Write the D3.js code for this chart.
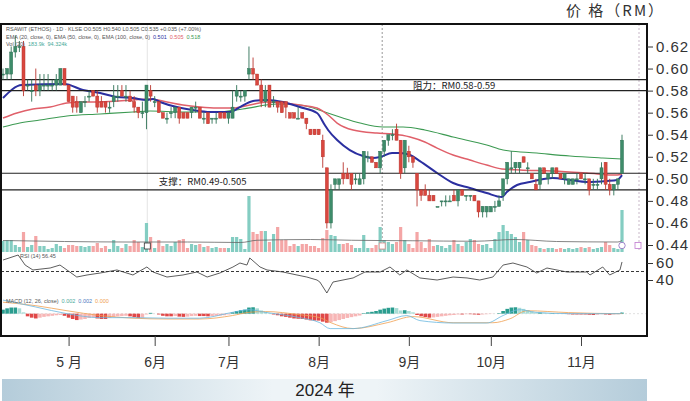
<!DOCTYPE html>
<html><head><meta charset="utf-8">
<script src="https://cdn.jsdelivr.net/npm/d3@7"></script>
<style>
body{margin:0;background:#fff;}
svg{display:block;font-family:"Liberation Sans","Noto Sans CJK SC",Arial,sans-serif;}
</style>
</head><body>
<svg id="c" width="690" height="401"></svg>
<script>
// ---------- DATA ----------
const monthLabels = ["5 月","6月","7月","8月","9月","10月","11月"];
const monthStartIdx = [16,37,55,77,99,119,141];
const priceTicks = [0.44,0.46,0.48,0.50,0.52,0.54,0.56,0.58,0.60,0.62];
const rsiTicks = [40,60];
const yearLabel = "2024 年";
const titleLabel = "价 格（RM）";

// daily candles [open, high, low, close]
const ohlc = [
[0.595,0.600,0.590,0.595],[0.595,0.600,0.590,0.600],[0.595,0.620,0.590,0.615],[0.615,0.630,0.610,0.620],[0.620,0.625,0.615,0.620],
[0.620,0.625,0.575,0.580],[0.585,0.590,0.580,0.585],[0.580,0.590,0.570,0.580],[0.585,0.600,0.575,0.580],[0.580,0.595,0.575,0.585],
[0.585,0.595,0.580,0.585],[0.585,0.595,0.580,0.585],[0.585,0.590,0.580,0.585],[0.585,0.595,0.580,0.590],[0.585,0.600,0.585,0.600],
[0.600,0.600,0.585,0.585],[0.585,0.585,0.570,0.570],[0.575,0.575,0.560,0.565],[0.570,0.575,0.560,0.565],[0.560,0.570,0.560,0.570],
[0.570,0.575,0.565,0.570],[0.575,0.580,0.570,0.575],[0.580,0.580,0.575,0.575],[0.575,0.580,0.560,0.565],[0.570,0.575,0.565,0.565],
[0.570,0.570,0.560,0.565],[0.565,0.570,0.560,0.565],[0.570,0.585,0.565,0.575],[0.575,0.585,0.570,0.575],[0.580,0.585,0.575,0.575],
[0.575,0.585,0.570,0.575],[0.575,0.580,0.570,0.570],[0.570,0.575,0.560,0.565],[0.565,0.565,0.555,0.560],[0.560,0.570,0.555,0.560],
[0.560,0.585,0.545,0.585],[0.580,0.585,0.570,0.575],[0.570,0.575,0.565,0.570],[0.570,0.570,0.560,0.560],[0.560,0.560,0.555,0.555],
[0.555,0.560,0.550,0.555],[0.560,0.565,0.555,0.560],[0.560,0.565,0.555,0.565],[0.565,0.565,0.550,0.555],[0.560,0.560,0.555,0.555],
[0.560,0.560,0.555,0.555],[0.560,0.565,0.555,0.565],[0.565,0.570,0.560,0.565],[0.565,0.565,0.555,0.555],[0.555,0.560,0.550,0.555],
[0.560,0.560,0.550,0.550],[0.555,0.555,0.550,0.555],[0.555,0.560,0.550,0.555],[0.560,0.560,0.555,0.555],[0.560,0.560,0.555,0.555],
[0.555,0.560,0.550,0.560],[0.555,0.580,0.555,0.565],[0.575,0.585,0.570,0.580],[0.575,0.580,0.570,0.575],[0.575,0.580,0.570,0.580],
[0.595,0.620,0.590,0.600],[0.600,0.610,0.590,0.595],[0.595,0.595,0.585,0.585],[0.585,0.590,0.565,0.570],[0.570,0.585,0.565,0.580],
[0.585,0.585,0.565,0.565],[0.570,0.575,0.565,0.570],[0.570,0.570,0.560,0.565],[0.570,0.570,0.560,0.560],[0.570,0.570,0.555,0.565],
[0.560,0.560,0.555,0.555],[0.560,0.560,0.555,0.555],[0.555,0.565,0.555,0.555],[0.560,0.560,0.555,0.555],[0.555,0.555,0.545,0.550],
[0.545,0.545,0.540,0.540],[0.545,0.545,0.540,0.540],[0.545,0.545,0.540,0.540],[0.535,0.540,0.510,0.520],[0.510,0.510,0.455,0.460],
[0.460,0.495,0.455,0.490],[0.495,0.500,0.490,0.500],[0.495,0.500,0.490,0.500],[0.505,0.515,0.495,0.500],[0.505,0.510,0.500,0.500],
[0.505,0.505,0.490,0.495],[0.500,0.505,0.495,0.500],[0.495,0.505,0.495,0.500],[0.500,0.525,0.495,0.525],[0.520,0.525,0.515,0.520],
[0.520,0.520,0.515,0.515],[0.515,0.515,0.510,0.510],[0.510,0.525,0.505,0.525],[0.525,0.535,0.520,0.535],[0.535,0.540,0.530,0.540],
[0.540,0.545,0.535,0.540],[0.545,0.550,0.535,0.535],[0.535,0.535,0.500,0.505],[0.510,0.535,0.505,0.535],[0.525,0.530,0.515,0.520],
[0.520,0.520,0.510,0.515],[0.505,0.505,0.475,0.490],[0.490,0.490,0.480,0.485],[0.490,0.495,0.485,0.485],[0.485,0.490,0.480,0.480],
[0.485,0.485,0.480,0.480],[0.475,0.475,0.475,0.475],[0.480,0.480,0.475,0.480],[0.480,0.485,0.475,0.480],[0.480,0.485,0.480,0.480],
[0.485,0.490,0.480,0.480],[0.480,0.490,0.475,0.490],[0.490,0.490,0.485,0.485],[0.485,0.485,0.480,0.485],[0.485,0.485,0.480,0.485],
[0.485,0.485,0.480,0.480],[0.480,0.480,0.465,0.470],[0.470,0.475,0.465,0.475],[0.470,0.475,0.465,0.475],[0.470,0.475,0.470,0.475],
[0.475,0.480,0.470,0.475],[0.475,0.485,0.475,0.480],[0.485,0.500,0.480,0.500],[0.500,0.515,0.495,0.515],[0.510,0.525,0.505,0.510],
[0.510,0.515,0.505,0.515],[0.510,0.515,0.505,0.515],[0.520,0.520,0.515,0.515],[0.510,0.515,0.505,0.510],[0.505,0.505,0.500,0.500],
[0.495,0.500,0.490,0.490],[0.495,0.510,0.490,0.510],[0.510,0.510,0.505,0.505],[0.500,0.505,0.495,0.505],[0.505,0.510,0.500,0.510],
[0.510,0.510,0.505,0.505],[0.505,0.505,0.500,0.500],[0.500,0.505,0.495,0.505],[0.495,0.500,0.495,0.500],[0.495,0.500,0.495,0.500],
[0.500,0.505,0.495,0.500],[0.505,0.505,0.500,0.500],[0.500,0.505,0.495,0.500],[0.500,0.500,0.485,0.490],[0.495,0.500,0.490,0.495],
[0.495,0.500,0.490,0.495],[0.500,0.515,0.495,0.510],[0.515,0.515,0.490,0.495],[0.495,0.500,0.485,0.490],[0.490,0.495,0.485,0.495],
[0.495,0.500,0.490,0.500],[0.505,0.540,0.505,0.535]
];

// daily volume (thousand shares)
const volumes = [
220,240,240,140,100,400,100,140,320,120, 120,60,80,160,120,80,140,140,120,120,
100,120,120,180,80,120,60,240,120,80, 160,120,240,200,100,580,300,80,240,120,
160,120,200,240,260,80,160,140,160,100, 120,80,100,80,80,80,300,300,260,60,
1120,400,360,420,420,200,360,500,240,240, 120,160,120,160,160,120,120,80,280,440,
340,320,160,160,180,140,80,80,340,80, 80,140,500,240,200,160,200,500,240,160,
80,400,200,80,260,120,140,120,80,140, 240,160,120,200,260,240,160,140,160,80,
260,400,540,420,360,300,200,400,240,140, 120,80,60,80,80,60,80,60,80,60,
80,100,80,100,60,80,100,200,140,80, 60,840
];
const volMA = [[0,230],[15,210],[30,200],[45,200],[58,190],[62,235],[75,250],[85,235],[100,225],[115,215],[125,250],[135,210],[150,200],[151,230]];

// moving averages [day index, price]
const maFast = [[0,0.5733],[4.6,0.5851],[15,0.586],[19.5,0.5805],[23.7,0.5778],[27.8,0.5742],[31.7,0.5733],[35,0.5715],[36.6,0.5724],[38.3,0.5697],[42.4,0.5651],[46.3,0.5624],[50.5,0.5606],[55.4,0.5606],[57.8,0.5651],[61,0.5706],[64.4,0.5715],[68.3,0.5697],[72.4,0.5651],[76.6,0.5597],[78.5,0.5488],[79.3,0.5443],[81.5,0.5352],[84.6,0.5261],[87.8,0.5207],[90.2,0.5189],[92,0.5198],[94.9,0.5234],[96.8,0.5234],[99.3,0.5216],[101.7,0.5161],[105.9,0.5053],[109.8,0.4962],[113.9,0.4917],[118,0.4871],[121.7,0.4835],[122.9,0.488],[125.4,0.4944],[128.5,0.4971],[134.1,0.5007],[138.3,0.4989],[142.4,0.4971],[147.3,0.498],[149.8,0.4989],[151,0.5034]];
const maMid = [[0,0.5551],[3.4,0.5597],[7.3,0.5633],[11.5,0.5651],[15.6,0.5688],[19.5,0.5697],[23.7,0.5697],[31.7,0.5715],[35.9,0.5724],[40,0.5697],[43.9,0.5669],[48,0.5651],[52.2,0.5642],[56.1,0.5642],[60.2,0.5669],[64.4,0.5697],[68.3,0.5688],[72.4,0.5669],[76.6,0.5642],[79.3,0.5579],[81.5,0.5506],[85.4,0.5443],[91.2,0.5415],[95.1,0.5406],[99.3,0.5379],[102.9,0.5334],[105.9,0.5279],[109.8,0.5216],[113.9,0.517],[118,0.5125],[121.7,0.5089],[126.1,0.508],[134.1,0.5071],[142.4,0.5053],[149.8,0.5034],[151,0.5044]];
const maSlow = [[0,0.547],[4.1,0.5506],[9,0.5533],[15.6,0.557],[23.7,0.5588],[31.7,0.5606],[35.9,0.5615],[43.9,0.5606],[52.2,0.5606],[58.5,0.5633],[66.8,0.5678],[72.4,0.5669],[78.5,0.5606],[82.9,0.5551],[87.1,0.5506],[92.7,0.547],[97.6,0.547],[102.9,0.5443],[109.8,0.5379],[118,0.5307],[122,0.5261],[130.2,0.5234],[138.3,0.5207],[146.3,0.5189],[151,0.518]];

// support / resistance
const levels = [0.59,0.58,0.505,0.49];
const levelLabels = [{text:"阻力：RM0.58-0.59", lo:0.58, hi:0.59, at:100},{text:"支撑：RM0.49-0.505", lo:0.49, hi:0.505, at:38}];

// RSI [day index, value]
const rsi = [[0,63.5],[3.7,69.4],[5.4,57.6],[7.3,51.8],[11.5,54.1],[13.9,57.6],[15.6,51.8],[18,43.5],[20.5,45.9],[23.7,48.2],[27.8,51.8],[31.7,45.9],[35.1,55.3],[36.6,49.4],[40,43.5],[43.9,45.9],[47.3,49.4],[49.8,43.5],[52.9,48.2],[56.1,55.3],[57.8,60],[59.5,57.6],[60.2,65.9],[62.7,55.3],[64.4,51.8],[68.3,49.4],[71.7,45.9],[74.1,43.5],[76.6,40],[77.3,37.6],[79,24.7],[80.5,37.6],[85.4,42.4],[88.3,49.4],[92,49.4],[94.4,55.3],[96.8,45.9],[98.5,51.8],[101.7,42.4],[105.9,40],[109.8,43.5],[113.2,42.4],[116.3,40],[119.5,43.5],[122,57.6],[124.4,60],[127.8,55.3],[130.2,48.2],[132.7,54.1],[137.6,49.4],[142.4,49.4],[143.2,45.9],[146.3,55.3],[148,45.9],[150.5,51.8],[151,61.2]];

// MACD (RM) [day index, value]
const macdLine = [[0,0.0051],[8,0.0025],[15.6,0],[23.7,-0.0015],[31.7,-0.0015],[40,-0.0017],[48,-0.0017],[56,0.0005],[60,0.0015],[64,0.0005],[72.4,-0.0015],[77.3,-0.0034],[79.8,-0.0056],[85.4,-0.0056],[93.7,-0.0026],[98.5,-0.0007],[101.7,-0.0026],[109.8,-0.0035],[118,-0.0035],[122,-0.0007],[126,0.0015],[130,0.0005],[138,0],[150.5,0],[151,0.0005]];
const signalLine = [[0,0.0043],[8,0.003],[15.6,0.0011],[23.7,-0.0007],[31.7,-0.0017],[40,-0.002],[48,-0.002],[56,-0.0007],[60,0.0005],[64,0.0008],[72.4,-0.0004],[77.3,-0.0015],[80,-0.0034],[85.4,-0.0056],[93.7,-0.0034],[100,-0.0011],[109.8,-0.0034],[119.5,-0.0034],[123.7,-0.0019],[127.8,0.0011],[138,0.0004],[150.5,0],[151,0.0001]];
const macdHist = [
1.5,2.0,2.3,2.3,2.0,0.5,-1.0,-1.5,-1.8,-1.5, -1.2,-1.0,-0.8,-0.6,-0.5,-0.8,-1.5,-2.0,-2.4,-2.2,
-2.0,-1.6,-1.4,-1.8,-2.0,-2.0,-1.6,-1.2,-1.0,-0.9, -0.8,-1.0,-1.3,-1.6,-1.5,-0.3,0.3,0.0,-0.3,-0.8,
-1.0,-1.0,-0.9,-1.1,-1.2,-1.1,-0.9,-0.8,-0.9,-0.9, -1.0,-0.9,-0.8,-0.7,-0.6,-0.3,0.5,1.0,1.3,1.5,
2.3,2.4,2.0,1.2,0.6,0.2,-0.3,-0.6,-1.0,-1.2, -1.5,-1.8,-1.9,-2.0,-2.2,-2.5,-2.6,-2.6,-3.0,-3.4,
-3.2,-2.8,-2.4,-2.0,-1.6,-1.3,-1.0,-0.7,0.2,0.5, 0.7,1.0,1.5,1.9,2.2,2.3,2.1,1.2,1.3,1.0,
0.5,-0.5,-1.0,-1.3,-1.5,-1.4,-1.2,-1.0,-0.8,-0.6, -0.5,-0.3,-0.3,-0.2,-0.2,-0.3,-0.4,-0.3,-0.2,-0.1,
0.0,0.2,1.0,1.8,2.3,2.4,2.2,1.8,1.3,0.8, 0.4,0.4,0.3,0.2,0.2,0.1,0.0,-0.1,-0.2,-0.3,
-0.3,-0.3,-0.3,-0.4,-0.5,-0.4,-0.2,-0.3,-0.4,-0.3, -0.2,0.4
]; // thousandths of RM

const headerLines = [
  {text:"RSAWIT (ETHOS) · 1D · KLSE  O0.505 H0.540 L0.505 C0.535 +0.035 (+7.00%)", color:"#555"},
  {text:"EMA (20, close, 0), EMA (50, close, 0), EMA (100, close, 0)", color:"#555", extra:[["0.501","#2b2fa0"],["0.505","#e0606a"],["0.518","#3c9a52"]]},
  {text:"Vol (20)", color:"#555", extra:[["183.9k","#48a99a"],["94.324k","#48a99a"]]}
];

// ---------- DRAW ----------
const svg = d3.select("#c");
const L = 1, R = 647, T = 24, B = 336;

const x = d3.scaleLinear().domain([0,151]).range([3,622]);
const yP = d3.scaleLinear().domain([0.44,0.62]).range([245,46.5]);
const yV = d3.scaleLinear().domain([0,1200]).range([252,192]);
const yR = d3.scaleLinear().domain([40,60]).range([280,263]);
const yM = d3.scaleLinear().domain([-0.0065,0.0055]).range([331,299]);

const defs = svg.append("defs");
defs.append("clipPath").attr("id","clip").append("rect").attr("x",L+1).attr("y",T+1).attr("width",R-L-2).attr("height",B-T-2);
const gr = defs.append("linearGradient").attr("id","band").attr("x1","0").attr("x2","1");
[[0,"#b4ccda"],[0.42,"#eef4f7"],[0.58,"#eef4f7"],[1,"#b4ccda"]].forEach(s=>gr.append("stop").attr("offset",s[0]).attr("stop-color",s[1]));

// title
svg.append("text").attr("x",566).attr("y",16).attr("text-anchor","start")
  .attr("font-size",15).attr("letter-spacing",2).attr("fill","#333")
  .attr("font-family","'Noto Sans CJK SC',sans-serif").text(titleLabel);

const g = svg.append("g").attr("clip-path","url(#clip)");

// faint verticals
g.append("line").attr("x1",x(35.2)).attr("x2",x(35.2)).attr("y1",T).attr("y2",252).attr("stroke","#e4e4e4").attr("stroke-width",1);
g.append("line").attr("x1",x(92.5)).attr("x2",x(92.5)).attr("y1",T).attr("y2",252).attr("stroke","#999").attr("stroke-dasharray","2,2").attr("stroke-width",1);
g.append("line").attr("x1",639).attr("x2",639).attr("y1",T).attr("y2",252).attr("stroke","#c8b8c8").attr("stroke-dasharray","2,2").attr("stroke-width",1);

// volume
g.selectAll("rect.vol").data(volumes).join("rect").attr("class","vol")
  .attr("x",(d,i)=>x(i)-1.6).attr("width",3.2)
  .attr("y",d=>yV(d)).attr("height",d=>252-yV(d))
  .attr("fill",(d,i)=>ohlc[i][3]>=ohlc[i][0]?"#84cdc2":"#f4a6a6");
g.append("path").datum(volMA).attr("fill","none").attr("stroke","#666").attr("stroke-width",0.8)
  .attr("d",d3.line().x(d=>x(d[0])).y(d=>yV(d[1])).curve(d3.curveMonotoneX));

// markers on volume
g.append("rect").attr("x",x(35.2)-3).attr("y",243).attr("width",6).attr("height",6).attr("fill","#fff").attr("stroke","#333").attr("stroke-width",0.8);
g.append("rect").attr("x",x(92.5)-3).attr("y",243).attr("width",6).attr("height",6).attr("fill","#fff").attr("stroke","#d88").attr("stroke-width",0.8);
g.append("circle").attr("cx",x(151)).attr("cy",245.5).attr("r",3.2).attr("fill","#fff").attr("stroke","#8a6ac0").attr("stroke-width",0.8);
g.append("rect").attr("x",635).attr("y",242.5).attr("width",6).attr("height",6).attr("fill","#fff").attr("stroke","#c07ad0").attr("stroke-width",0.8);

// MAs
const maLine = d3.line().x(d=>x(d[0])).y(d=>yP(d[1])).curve(d3.curveMonotoneX);
g.append("path").datum(maSlow).attr("fill","none").attr("stroke","#3c9a52").attr("stroke-width",1.1).attr("d",maLine);
g.append("path").datum(maMid).attr("fill","none").attr("stroke","#e0606a").attr("stroke-width",1.5).attr("d",maLine);
g.append("path").datum(maFast).attr("fill","none").attr("stroke","#2b2fa0").attr("stroke-width",2).attr("d",maLine);

// levels
g.selectAll("line.lvl").data(levels).join("line").attr("class","lvl")
  .attr("x1",L).attr("x2",R).attr("y1",d=>yP(d)).attr("y2",d=>yP(d))
  .attr("stroke","#222").attr("stroke-width",1.1);
g.selectAll("text.lvl").data(levelLabels).join("text").attr("class","lvl")
  .attr("x",d=>x(d.at)).attr("y",d=>(yP(d.lo)+yP(d.hi))/2+3.5)
  .attr("font-size",9.5).attr("fill","#222")
  .attr("font-family","'Noto Sans CJK SC',sans-serif").text(d=>d.text);

// candles
const up = d=>d[3]>=d[0];
const cg = g.selectAll("g.c").data(ohlc).join("g").attr("class","c");
cg.append("line").attr("x1",(d,i)=>x(i)).attr("x2",(d,i)=>x(i))
  .attr("y1",d=>yP(d[1])).attr("y2",d=>yP(d[2]))
  .attr("stroke",d=>up(d)?"#2f7256":"#b9362f").attr("stroke-width",0.9);
cg.append("rect").attr("x",(d,i)=>x(i)-1.5).attr("width",3)
  .attr("y",d=>yP(Math.max(d[0],d[3])))
  .attr("height",d=>Math.max(1,Math.abs(yP(d[0])-yP(d[3]))))
  .attr("fill",d=>up(d)?"#3e8c6a":"#d9473f")
  .attr("stroke",d=>up(d)?"#2f7256":"#b9362f").attr("stroke-width",0.5);

// header texts
headerLines.forEach((h,k)=>{
  const t = svg.append("text").attr("x",6).attr("y",31+k*7.5).attr("font-size",5.5).attr("fill",h.color);
  t.append("tspan").text(h.text);
  (h.extra||[]).forEach(e=>t.append("tspan").attr("dx",3).attr("fill",e[1]).text(e[0]));
});

// RSI
g.append("line").attr("x1",L).attr("x2",R).attr("y1",yR(50)).attr("y2",yR(50)).attr("stroke","#222").attr("stroke-dasharray","3,2").attr("stroke-width",0.9);
g.append("path").datum(rsi).attr("fill","none").attr("stroke","#333").attr("stroke-width",0.8)
  .attr("d",d3.line().x(d=>x(d[0])).y(d=>yR(d[1])));
svg.append("text").attr("x",20).attr("y",258).attr("font-size",5.5).attr("fill","#555").text("RSI (14)  56.45");

// MACD
g.append("line").attr("x1",L).attr("x2",R).attr("y1",yM(0)).attr("y2",yM(0)).attr("stroke","#ccc").attr("stroke-dasharray","2,2").attr("stroke-width",0.6);
g.selectAll("rect.h").data(macdHist).join("rect").attr("class","h")
  .attr("x",(d,i)=>x(i)-1.8).attr("width",3.6)
  .attr("y",d=>d>=0?yM(d/1000):yM(0)).attr("height",d=>Math.abs(yM(d/1000)-yM(0)))
  .attr("fill",(d,i)=>{const p=i>0?macdHist[i-1]:d; if(d>=0) return d>=p?"#2a9d8f":"#a8dcd5"; return d<=p?"#e04848":"#f7b6b6";});
const ml = d3.line().x(d=>x(d[0])).y(d=>yM(d[1])).curve(d3.curveMonotoneX);
g.append("path").datum(signalLine).attr("fill","none").attr("stroke","#f0a050").attr("stroke-width",0.8).attr("d",ml);
g.append("path").datum(macdLine).attr("fill","none").attr("stroke","#6ab8e0").attr("stroke-width",0.8).attr("d",ml);
const mt = svg.append("text").attr("x",6).attr("y",303).attr("font-size",5.5).attr("fill","#555");
mt.append("tspan").text("MACD (12, 26, close)");
[["0.002","#48a99a"],["0.002","#4a7ac0"],["0.000","#f0a050"]].forEach(e=>mt.append("tspan").attr("dx",3).attr("fill",e[1]).text(e[0]));

// frame
svg.append("rect").attr("x",L).attr("y",T).attr("width",R-L).attr("height",B-T).attr("fill","none").attr("stroke","#111").attr("stroke-width",2);

// right axes
const axP = svg.append("g").attr("transform",`translate(${R},0)`)
  .call(d3.axisRight(yP).tickValues(priceTicks).tickFormat(d3.format(".2f")).tickSize(6).tickPadding(3));
const axR = svg.append("g").attr("transform",`translate(${R},0)`)
  .call(d3.axisRight(yR).tickValues(rsiTicks).tickSize(6).tickPadding(3));
[axP,axR].forEach(a=>{
  a.select(".domain").remove();
  a.selectAll("line").attr("stroke","#333");
  a.selectAll("text").attr("font-size",15).attr("letter-spacing",1).attr("fill","#333").attr("font-family","'Liberation Sans',Arial,sans-serif");
});

// x axis
const axX = svg.append("g").attr("transform",`translate(0,${B})`)
  .call(d3.axisBottom(x).tickValues(monthStartIdx).tickFormat((d,i)=>monthLabels[i]).tickSize(10).tickPadding(11));
axX.select(".domain").remove();
axX.selectAll("line").attr("stroke","#444");
axX.selectAll("text").attr("font-size",14).attr("fill","#333").attr("font-family","'Liberation Sans','Noto Sans CJK SC',sans-serif");

// year band
svg.append("rect").attr("x",2).attr("y",379).attr("width",645).attr("height",22).attr("fill","url(#band)");
svg.append("text").attr("x",325).attr("y",396).attr("text-anchor","middle").attr("font-size",17).attr("fill","#222")
  .attr("font-family","'Liberation Sans','Noto Sans CJK SC',sans-serif").text(yearLabel);
</script>
</body></html>
